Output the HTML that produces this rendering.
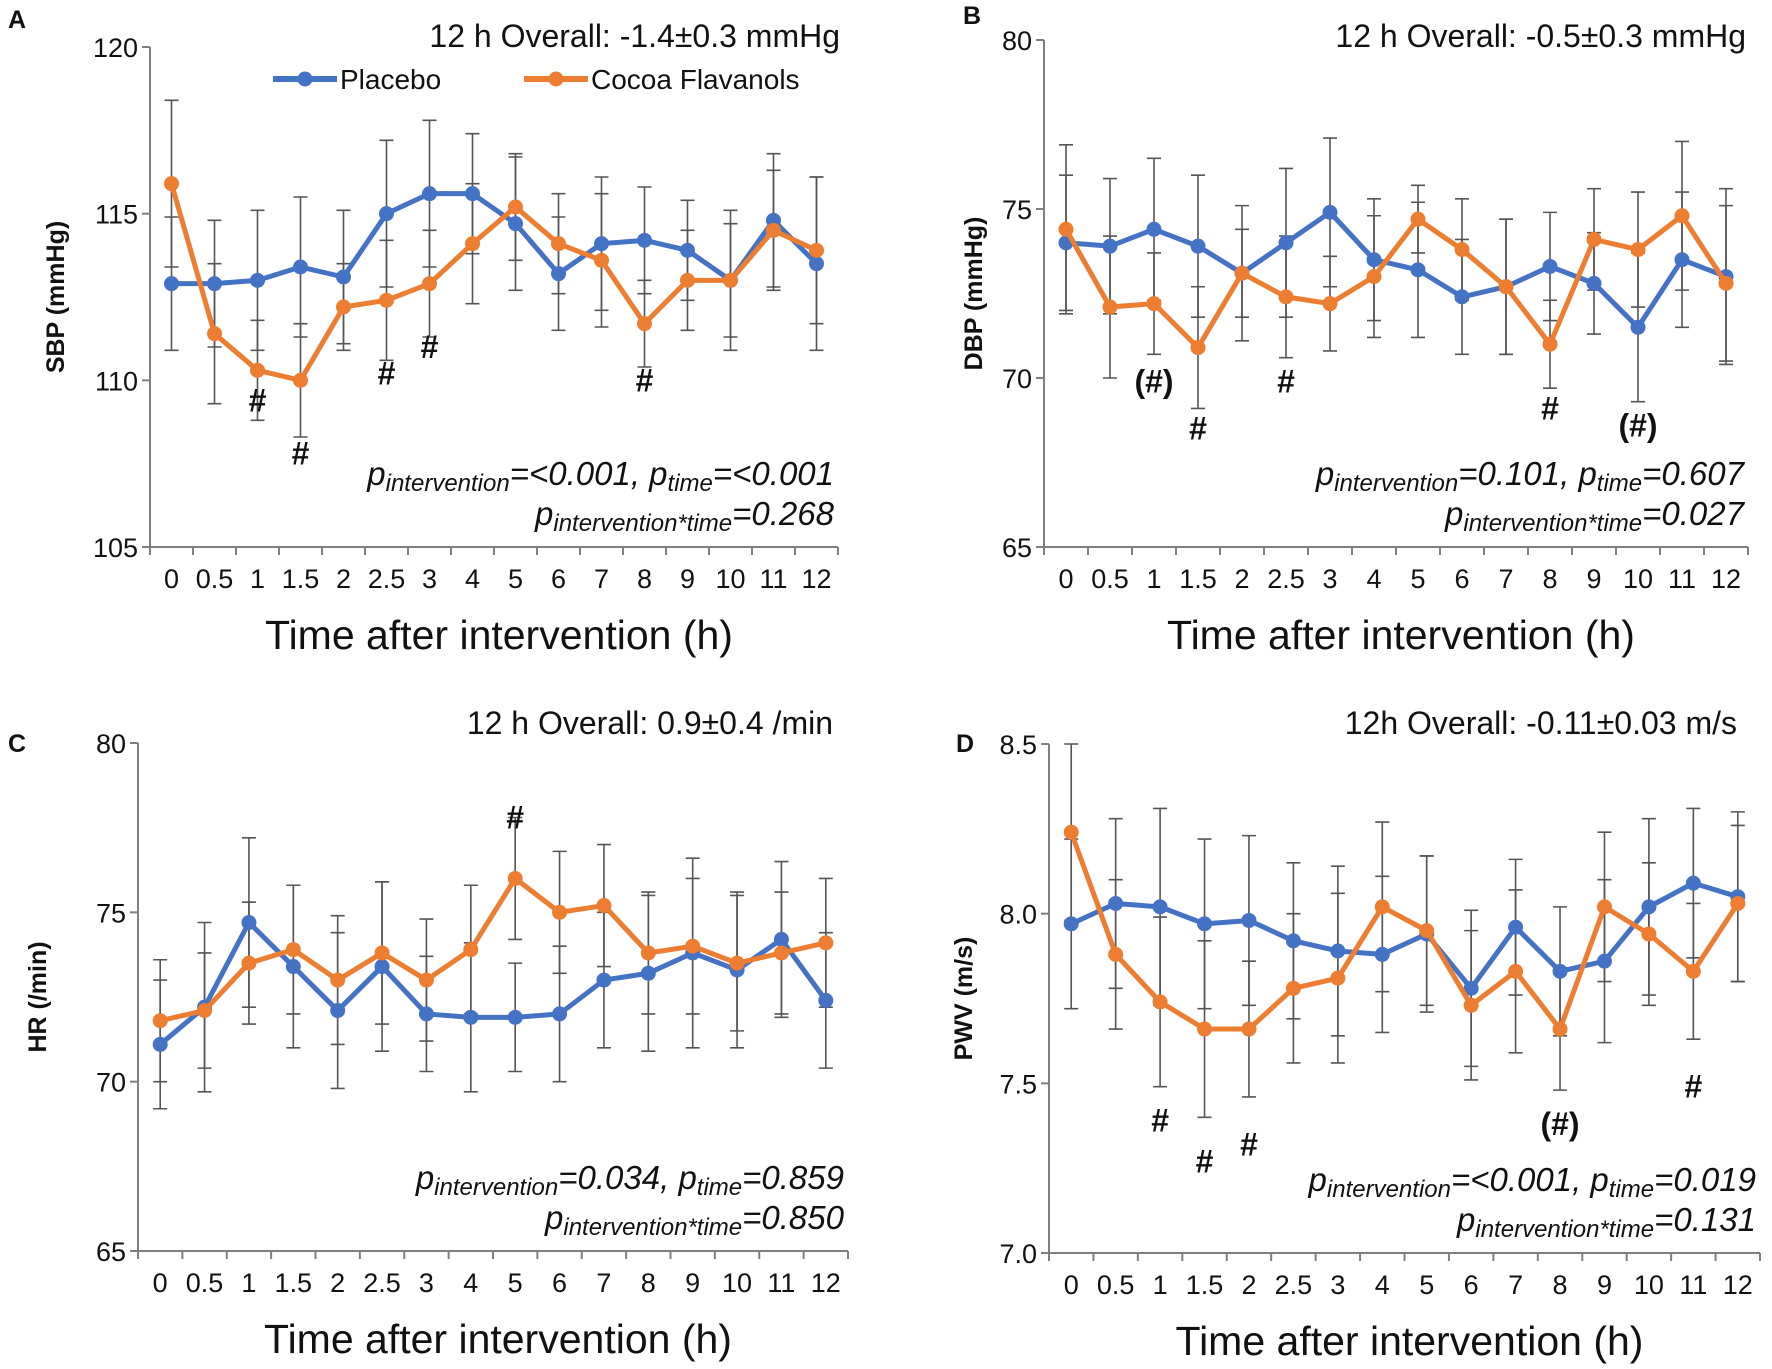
<!DOCTYPE html>
<html><head><meta charset="utf-8">
<style>
body{margin:0;background:#fff;}
svg{display:block;font-family:"Liberation Sans",Arial,sans-serif;}
</style></head>
<body>
<svg id="fig" width="1772" height="1369" viewBox="0 0 1772 1369" xmlns="http://www.w3.org/2000/svg"></svg>
<script>
const categories = ["0","0.5","1","1.5","2","2.5","3","4","5","6","7","8","9","10","11","12"];
const sbpPlacebo = [112.9,112.9,113.0,113.4,113.1,115.0,115.6,115.6,114.7,113.2,114.1,114.2,113.9,113.0,114.8,113.5];
const sbpPlaceboErr = [2.0,1.9,2.1,2.1,2.0,2.2,2.2,1.8,2.0,1.7,2.0,1.6,1.5,2.1,2.0,2.6];
const sbpCocoa = [115.9,111.4,110.3,110.0,112.2,112.4,112.9,114.1,115.2,114.1,113.6,111.7,113.0,113.0,114.5,113.9];
const sbpCocoaErr = [2.5,2.1,1.5,1.7,1.3,1.8,1.6,1.8,1.6,1.5,2.0,1.3,1.5,1.7,1.8,2.2];
const dbpPlacebo = [74.0,73.9,74.4,73.9,73.1,74.0,74.9,73.5,73.2,72.4,72.7,73.3,72.8,71.5,73.5,73.0];
const dbpPlaceboErr = [2.0,2.0,2.1,2.1,2.0,2.2,2.2,1.8,2.0,1.7,2.0,1.6,1.5,2.2,2.0,2.6];
const dbpCocoa = [74.4,72.1,72.2,70.9,73.1,72.4,72.2,73.0,74.7,73.8,72.7,71.0,74.1,73.8,74.8,72.8];
const dbpCocoaErr = [2.5,2.1,1.5,1.8,1.3,1.8,1.4,1.8,1.0,1.5,2.0,1.3,1.5,1.7,2.2,2.3];
const hrPlacebo = [71.1,72.2,74.7,73.4,72.1,73.4,72.0,71.9,71.9,72.0,73.0,73.2,73.8,73.3,74.2,72.4];
const hrPlaceboErr = [1.9,2.5,2.5,2.4,2.3,2.5,1.7,2.2,1.6,2.0,2.0,2.3,2.8,2.3,2.3,2.0];
const hrCocoa = [71.8,72.1,73.5,73.9,73.0,73.8,73.0,73.9,76.0,75.0,75.2,73.8,74.0,73.5,73.8,74.1];
const hrCocoaErr = [1.8,1.7,1.8,1.9,1.9,2.1,1.8,1.9,1.8,1.8,1.8,1.8,2.0,2.0,1.8,1.9];
const pwvPlacebo = [7.97,8.03,8.02,7.97,7.98,7.92,7.89,7.88,7.94,7.78,7.96,7.83,7.86,8.02,8.09,8.05];
const pwvPlaceboErr = [0.25,0.25,0.29,0.25,0.25,0.23,0.25,0.23,0.23,0.23,0.20,0.19,0.24,0.26,0.22,0.25];
const pwvCocoa = [8.24,7.88,7.74,7.66,7.66,7.78,7.81,8.02,7.95,7.73,7.83,7.66,8.02,7.94,7.83,8.03];
const pwvCocoaErr = [0.26,0.22,0.25,0.26,0.20,0.22,0.25,0.25,0.22,0.22,0.24,0.18,0.22,0.21,0.20,0.23];
const sbpTicks = [105,110,115,120];
const dbpTicks = [65,70,75,80];
const hrTicks = [65,70,75,80];
const pwvTicks = [7.0,7.5,8.0,8.5];
const sbpMarks = [[2,"#",109.4],[3,"#",107.8],[5,"#",110.2],[6,"#",111.0],[11,"#",110.0]];
const dbpMarks = [[2,"(#)",69.9],[3,"#",68.5],[5,"#",69.9],[11,"#",69.1],[13,"(#)",68.6]];
const hrMarks = [[8,"#",77.8]];
const pwvMarks = [[2,"#",7.39],[3,"#",7.27],[4,"#",7.32],[11,"(#)",7.38],[14,"#",7.49]];

const NS="http://www.w3.org/2000/svg";
const svg=document.getElementById('fig');
function mk(tag,attrs,parent){const e=document.createElementNS(NS,tag);for(const k in attrs)e.setAttribute(k,attrs[k]);(parent||svg).appendChild(e);return e;}
const BLUE="#4472C4",ORANGE="#ED7D31";

function panel(p){
  const g=mk('g',{});
  
  
  const step=(p.x1-p.x0)/categories.length;
  const xs=i=>p.x0+step*(i+0.5);
  const ys=v=>p.yb-(v-p.vmin)/(p.vmax-p.vmin)*(p.yb-p.yt);
  const ya=mk('line',{x1:p.x0,y1:p.yt,x2:p.x0,y2:p.yb,stroke:'#7f7f7f','stroke-width':2},g);
  
  
  const xa=mk('line',{x1:p.x0-8,y1:p.yb,x2:p.x1,y2:p.yb,stroke:'#7f7f7f','stroke-width':2},g);
  
  
  p.ticks.forEach(t=>{
    const y=ys(t);
    mk('line',{x1:p.x0-8,y1:y,x2:p.x0,y2:y,stroke:'#7f7f7f','stroke-width':2},g);
    const tx=mk('text',{x:p.x0-12,y:y+10,'font-size':27,'text-anchor':'end',fill:'#111'},g);
    tx.textContent=p.fmt(t);
    
    
  });
  for(let i=0;i<=categories.length;i++){
    const x=p.x0+step*i;
    mk('line',{x1:x,y1:p.yb,x2:x,y2:p.yb+8,stroke:'#7f7f7f','stroke-width':2},g);
  }
  categories.forEach((c,i)=>{
    const tx=mk('text',{x:xs(i),y:p.yb+41,'font-size':27,'text-anchor':'middle',fill:'#111'},g);
    tx.textContent=c;
    
    
  });
  [[p.pl,p.ple],[p.co,p.coe]].forEach(([vals,errs])=>{
    vals.forEach((v,i)=>{
      const x=xs(i),t=ys(v+errs[i]),b=ys(v-errs[i]);
      const eb=mk('path',{d:`M${x},${t}V${b}M${x-7},${t}H${x+7}M${x-7},${b}H${x+7}`,stroke:'#555','stroke-width':1.6,fill:'none'},g);
      
      
    });
  });
  [[p.pl,BLUE,'placebo'],[p.co,ORANGE,'cocoa']].forEach(([vals,col,nm])=>{
    const d=vals.map((v,i)=>(i?'L':'M')+xs(i)+','+ys(v)).join('');
    const ln=mk('path',{d:d,stroke:col,'stroke-width':5,fill:'none','stroke-linejoin':'round'},g);
    
    
    vals.forEach((v,i)=>{
      const c=mk('circle',{cx:xs(i),cy:ys(v),r:7.5,fill:col},g);
      
      
    });
  });
  p.marks.forEach(m=>{
    const tx=mk('text',{x:xs(m[0]),y:ys(m[2])+11,'font-size':32,'font-weight':'bold','text-anchor':'middle',fill:'#111'},g);
    tx.textContent=m[1];
    
    
  });
  const tt=mk('text',{x:p.titleX,y:p.titleY,'font-size':32,'text-anchor':'end',fill:'#111'},g);
  tt.textContent=p.title;
  
  
  const pv1=mk('text',{x:p.x1-4,y:p.yb-62,'font-size':33,'font-style':'italic','text-anchor':'end',fill:'#111'},g);
  pv1.innerHTML=`p<tspan font-size="24" dy="6">intervention</tspan><tspan dy="-6">=${p.p1}, p</tspan><tspan font-size="24" dy="6">time</tspan><tspan dy="-6">=${p.p2}</tspan>`;
  
  
  const pv2=mk('text',{x:p.x1-4,y:p.yb-22,'font-size':33,'font-style':'italic','text-anchor':'end',fill:'#111'},g);
  pv2.innerHTML=`p<tspan font-size="24" dy="6">intervention*time</tspan><tspan dy="-6">=${p.p3}</tspan>`;
  
  
  const xt=mk('text',{x:(p.x0+p.x1)/2+5,y:p.yb+102,'font-size':41,'text-anchor':'middle',fill:'#111'},g);
  xt.textContent='Time after intervention (h)';
  
  
  const yt=mk('text',{x:0,y:0,'font-size':25,'font-weight':'bold','text-anchor':'middle',fill:'#111',transform:`translate(${p.ytx},${(p.yt+p.yb)/2}) rotate(-90)`},g);
  yt.textContent=p.ytitle;
  
  
  const lt=mk('text',{x:p.letX,y:p.letY,'font-size':25,'font-weight':'bold',fill:'#111'},g);
  lt.textContent=p.letter;
  
  
}

panel({id:'sbp',letter:'A',letX:8,letY:28,x0:150,x1:838,yt:47,yb:547,vmin:105,vmax:120,ticks:sbpTicks,fmt:t=>t,
  pl:sbpPlacebo,ple:sbpPlaceboErr,co:sbpCocoa,coe:sbpCocoaErr,marks:sbpMarks,title:'12 h Overall: -1.4±0.3 mmHg',titleX:840,titleY:47,
  p1:'&lt;0.001',p2:'&lt;0.001',p3:'0.268',ytitle:'SBP (mmHg)',ytx:64});
panel({id:'dbp',letter:'B',letX:963,letY:24,x0:1044,x1:1748,yt:40,yb:547,vmin:65,vmax:80,ticks:dbpTicks,fmt:t=>t,
  pl:dbpPlacebo,ple:dbpPlaceboErr,co:dbpCocoa,coe:dbpCocoaErr,marks:dbpMarks,title:'12 h Overall: -0.5±0.3 mmHg',titleX:1746,titleY:47,
  p1:'0.101',p2:'0.607',p3:'0.027',ytitle:'DBP (mmHg)',ytx:982});
panel({id:'hr',letter:'C',letX:8,letY:752,x0:138,x1:848,yt:743,yb:1251,vmin:65,vmax:80,ticks:hrTicks,fmt:t=>t,
  pl:hrPlacebo,ple:hrPlaceboErr,co:hrCocoa,coe:hrCocoaErr,marks:hrMarks,title:'12 h Overall: 0.9±0.4 /min',titleX:833,titleY:734,
  p1:'0.034',p2:'0.859',p3:'0.850',ytitle:'HR (/min)',ytx:46});
panel({id:'pwv',letter:'D',letX:956,letY:752,x0:1049,x1:1760,yt:744,yb:1253,vmin:7.0,vmax:8.5,ticks:pwvTicks,fmt:t=>t.toFixed(1),
  pl:pwvPlacebo,ple:pwvPlaceboErr,co:pwvCocoa,coe:pwvCocoaErr,marks:pwvMarks,title:'12h Overall: -0.11±0.03 m/s',titleX:1737,titleY:734,
  p1:'&lt;0.001',p2:'0.019',p3:'0.131',ytitle:'PWV (m/s)',ytx:972});

const leg=mk('g',{});


[[273,337,BLUE,'Placebo','legend-placebo'],[524,588,ORANGE,'Cocoa Flavanols','legend-cocoa']].forEach(e=>{
  const gg=mk('g',{},leg);
  
  
  mk('line',{x1:e[0],y1:79,x2:e[1],y2:79,stroke:e[2],'stroke-width':6},gg);
  mk('circle',{cx:(e[0]+e[1])/2,cy:79,r:7.5,fill:e[2]},gg);
  const t=mk('text',{x:e[1]+3,y:89,'font-size':28,fill:'#111'},gg);
  t.textContent=e[3];
});
</script>
</body></html>
